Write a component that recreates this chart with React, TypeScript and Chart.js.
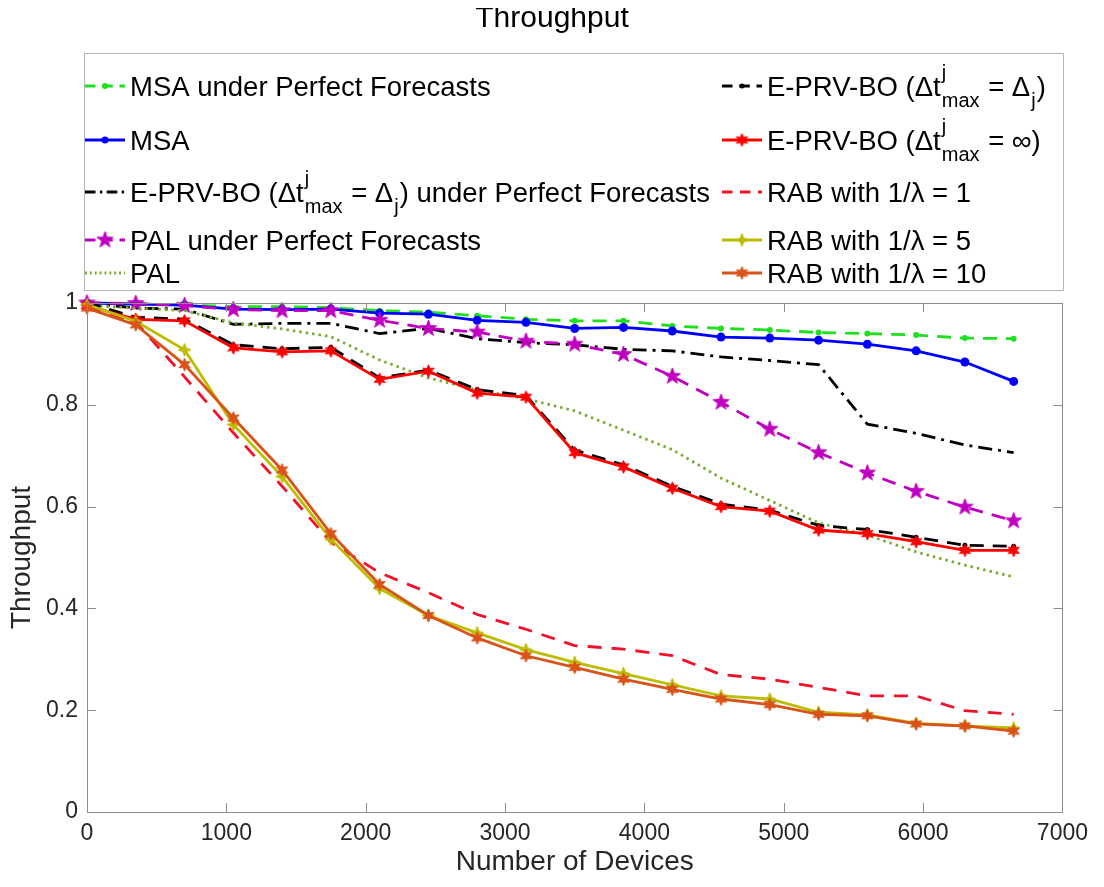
import React, { useEffect, useRef } from 'react';
import { Chart, registerables } from 'chart.js';

Chart.register(...registerables);

// ---------- data ----------
const devices = [0, 350, 700, 1050, 1400, 1750, 2100, 2450, 2800, 3150, 3500, 3850, 4200, 4550, 4900, 5250, 5600, 5950, 6300, 6650];

const msaPerfect = [1.0, 0.997, 0.996, 0.993, 0.993, 0.991, 0.985, 0.982, 0.975, 0.968, 0.965, 0.965, 0.955, 0.95, 0.947, 0.942, 0.94, 0.937, 0.931, 0.93];
const msa = [1.0, 0.998, 0.996, 0.988, 0.987, 0.988, 0.98, 0.978, 0.966, 0.962, 0.95, 0.952, 0.945, 0.933, 0.931, 0.927, 0.919, 0.906, 0.884, 0.846];
const eprvPerfect = [1.0, 0.99, 0.988, 0.958, 0.96, 0.96, 0.94, 0.95, 0.93, 0.922, 0.918, 0.909, 0.906, 0.894, 0.887, 0.879, 0.762, 0.744, 0.721, 0.706];
const palPerfect = [1.0, 0.999, 0.995, 0.987, 0.985, 0.985, 0.966, 0.95, 0.943, 0.925, 0.919, 0.899, 0.856, 0.805, 0.752, 0.706, 0.666, 0.63, 0.599, 0.572];
const pal = [0.995, 0.99, 0.985, 0.961, 0.949, 0.934, 0.888, 0.853, 0.829, 0.812, 0.788, 0.75, 0.712, 0.656, 0.612, 0.568, 0.544, 0.511, 0.485, 0.462];
const eprvDj = [1.0, 0.972, 0.968, 0.918, 0.91, 0.913, 0.853, 0.868, 0.83, 0.818, 0.711, 0.682, 0.64, 0.605, 0.593, 0.563, 0.555, 0.54, 0.524, 0.522];
const eprvInf = [0.995, 0.968, 0.965, 0.912, 0.904, 0.906, 0.85, 0.866, 0.823, 0.815, 0.706, 0.678, 0.636, 0.6, 0.591, 0.554, 0.547, 0.531, 0.514, 0.514];
const rab1 = [0.99, 0.963, 0.855, 0.745, 0.64, 0.53, 0.47, 0.431, 0.388, 0.359, 0.327, 0.32, 0.307, 0.27, 0.261, 0.245, 0.228, 0.228, 0.199, 0.192];
const rab5 = [0.997, 0.964, 0.908, 0.761, 0.659, 0.536, 0.439, 0.386, 0.352, 0.319, 0.294, 0.272, 0.25, 0.228, 0.222, 0.196, 0.191, 0.174, 0.169, 0.165];
const rab10 = [0.99, 0.957, 0.879, 0.774, 0.672, 0.547, 0.447, 0.386, 0.342, 0.307, 0.284, 0.261, 0.241, 0.222, 0.211, 0.192, 0.189, 0.173, 0.169, 0.159];

const xTickLabels = ['0', '1000', '2000', '3000', '4000', '5000', '6000', '7000'];
const yTickLabels = ['0', '0.2', '0.4', '0.6', '0.8', '1'];
const chartTitle = 'Throughput';
const xTitle = 'Number of Devices';
const yTitle = 'Throughput';

type Seg = { t?: string; sup?: string; sub?: string };
const labelMsaPerfect: Seg[] = [{ t: 'MSA under Perfect Forecasts' }];
const labelMsa: Seg[] = [{ t: 'MSA' }];
const labelEprvPerfect: Seg[] = [{ t: 'E-PRV-BO (\u0394t' }, { sup: 'j', sub: 'max' }, { t: ' = \u0394' }, { sub: 'j' }, { t: ') under Perfect Forecasts' }];
const labelPalPerfect: Seg[] = [{ t: 'PAL under Perfect Forecasts' }];
const labelPal: Seg[] = [{ t: 'PAL' }];
const labelEprvDj: Seg[] = [{ t: 'E-PRV-BO (\u0394t' }, { sup: 'j', sub: 'max' }, { t: ' = \u0394' }, { sub: 'j' }, { t: ')' }];
const labelEprvInf: Seg[] = [{ t: 'E-PRV-BO (\u0394t' }, { sup: 'j', sub: 'max' }, { t: ' = \u221E)' }];
const labelRab1: Seg[] = [{ t: 'RAB with 1/\u03BB = 1' }];
const labelRab5: Seg[] = [{ t: 'RAB with 1/\u03BB = 5' }];
const labelRab10: Seg[] = [{ t: 'RAB with 1/\u03BB = 10' }];

// ---------- styles ----------
const FONT = '"Liberation Sans", Arial, Helvetica, sans-serif';
const TEXT = '#262626';

type Marker = { kind: 'none' } | { kind: 'circle'; r: number } | { kind: 'star'; n: number; outer: number; inner: number; rot?: number };

type Series = { label: Seg[]; data: number[]; color: string; dash: number[]; width: number; marker: Marker; col: number; row: number };

const series: Series[] = [
  { label: labelMsaPerfect, data: msaPerfect, color: '#1ee01e', dash: [14, 9], width: 2.8, marker: { kind: 'circle', r: 3 }, col: 0, row: 0 },
  { label: labelMsa, data: msa, color: '#0000ff', dash: [], width: 2.8, marker: { kind: 'circle', r: 4.5 }, col: 0, row: 1 },
  { label: labelEprvPerfect, data: eprvPerfect, color: '#000000', dash: [14, 6, 3, 6], width: 2.8, marker: { kind: 'none' }, col: 0, row: 2 },
  { label: labelPalPerfect, data: palPerfect, color: '#c000c0', dash: [14, 9], width: 2.8, marker: { kind: 'star', n: 5, outer: 8.5, inner: 3.4 }, col: 0, row: 3 },
  { label: labelPal, data: pal, color: '#77ac30', dash: [2.5, 4], width: 2.8, marker: { kind: 'none' }, col: 0, row: 4 },
  { label: labelEprvDj, data: eprvDj, color: '#000000', dash: [14, 9], width: 2.8, marker: { kind: 'circle', r: 2.5 }, col: 1, row: 0 },
  { label: labelEprvInf, data: eprvInf, color: '#ff0000', dash: [], width: 2.8, marker: { kind: 'star', n: 6, outer: 6.5, inner: 3 }, col: 1, row: 1 },
  { label: labelRab1, data: rab1, color: '#f2102a', dash: [14, 10], width: 2.8, marker: { kind: 'none' }, col: 1, row: 2 },
  { label: labelRab5, data: rab5, color: '#bdbd00', dash: [], width: 2.8, marker: { kind: 'star', n: 4, outer: 6.5, inner: 2.5 }, col: 1, row: 3 },
  { label: labelRab10, data: rab10, color: '#d95319', dash: [], width: 2.8, marker: { kind: 'star', n: 6, outer: 6.5, inner: 3 }, col: 1, row: 4 },
];

// legend geometry (canvas px)
const legendBox = { x: 76, y: 45, w: 979, h: 237 };
const legendRowY = [78, 132, 184, 232, 265];
const legendColX = [77, 714];
const sampleLen = 40;
const legendFont = 27.5;
const legendSmall = 20;

function starCanvas(n: number, outer: number, inner: number, color: string, rot = -Math.PI / 2): HTMLCanvasElement {
  const size = Math.ceil(outer * 2 + 4);
  const c = document.createElement('canvas');
  c.width = size;
  c.height = size;
  const g = c.getContext('2d')!;
  g.translate(size / 2, size / 2);
  g.beginPath();
  for (let i = 0; i < 2 * n; i++) {
    const r = i % 2 === 0 ? outer : inner;
    const a = rot + (i * Math.PI) / n;
    g.lineTo(r * Math.cos(a), r * Math.sin(a));
  }
  g.closePath();
  g.fillStyle = color;
  g.fill();
  g.strokeStyle = color;
  g.lineWidth = 1;
  g.stroke();
  return c;
}

function drawRich(ctx: CanvasRenderingContext2D, segs: Seg[], x: number, y: number) {
  let cx = x;
  ctx.textAlign = 'left';
  ctx.textBaseline = 'alphabetic';
  for (const s of segs) {
    if (s.t !== undefined) {
      ctx.font = `${legendFont}px ${FONT}`;
      ctx.fillText(s.t, cx, y);
      cx += ctx.measureText(s.t).width;
    } else {
      ctx.font = `${legendSmall}px ${FONT}`;
      let w = 0;
      if (s.sup) {
        ctx.fillText(s.sup, cx + 1, y - 17);
        w = Math.max(w, ctx.measureText(s.sup).width + 1);
      }
      if (s.sub) {
        ctx.fillText(s.sub, cx + 1, y + 11);
        w = Math.max(w, ctx.measureText(s.sub).width + 1);
      }
      cx += w + 1;
    }
  }
}

export default function App() {
  const ref = useRef<HTMLCanvasElement | null>(null);

  useEffect(() => {
    if (!ref.current) return;
    const imgs = series.map((s) =>
      s.marker.kind === 'star' ? starCanvas(s.marker.n, s.marker.outer, s.marker.inner, s.color, s.marker.rot) : null
    );

    const datasets = series.map((s, i) => {
      const base: any = {
        label: s.label.map((p) => p.t ?? p.sup ?? p.sub ?? '').join(''),
        data: devices.map((x, k) => ({ x, y: s.data[k] })),
        borderColor: s.color,
        backgroundColor: s.color,
        borderWidth: s.width,
        borderDash: s.dash,
        tension: 0,
        fill: false,
        clip: false,
        order: series.length - i,
      };
      if (s.marker.kind === 'none') {
        base.pointRadius = 0;
      } else if (s.marker.kind === 'circle') {
        base.pointStyle = 'circle';
        base.pointRadius = s.marker.r;
        base.pointBackgroundColor = s.color;
        base.pointBorderColor = s.color;
        base.pointBorderWidth = 0;
      } else {
        base.pointStyle = imgs[i];
        base.pointRadius = 6;
      }
      return base;
    });

    const decor = {
      id: 'decor',
      afterDatasetsDraw(chart: any) {
        const ctx: CanvasRenderingContext2D = chart.ctx;
        const { left, right, top, bottom } = chart.chartArea;
        const xs = chart.scales.x;
        const ys = chart.scales.y;
        ctx.save();
        ctx.strokeStyle = '#8c8c8c';
        ctx.lineWidth = 1;
        ctx.strokeRect(Math.round(left) + 0.5, Math.round(top) + 0.5, Math.round(right - left), Math.round(bottom - top));
        ctx.beginPath();
        const tl = 9;
        xs.ticks.forEach((t: any) => {
          const px = Math.round(xs.getPixelForValue(t.value)) + 0.5;
          ctx.moveTo(px, bottom);
          ctx.lineTo(px, bottom - tl);
          ctx.moveTo(px, top);
          ctx.lineTo(px, top + tl);
        });
        ys.ticks.forEach((t: any) => {
          const py = Math.round(ys.getPixelForValue(t.value)) + 0.5;
          ctx.moveTo(left, py);
          ctx.lineTo(left + tl, py);
          ctx.moveTo(right, py);
          ctx.lineTo(right - tl, py);
        });
        ctx.stroke();
        ctx.restore();
      },
      afterDraw(chart: any) {
        const ctx: CanvasRenderingContext2D = chart.ctx;
        ctx.save();
        // title
        ctx.fillStyle = '#000';
        ctx.font = `30px ${FONT}`;
        ctx.textAlign = 'center';
        ctx.textBaseline = 'middle';
        ctx.fillText(chartTitle, chart.width / 2, 11);
        // legend box
        ctx.fillStyle = '#fff';
        ctx.fillRect(legendBox.x, legendBox.y, legendBox.w, legendBox.h);
        ctx.strokeStyle = '#b4b4b4';
        ctx.lineWidth = 1;
        ctx.strokeRect(legendBox.x + 0.5, legendBox.y + 0.5, legendBox.w, legendBox.h);
        series.forEach((s, i) => {
          const x0 = legendColX[s.col];
          const cy = legendRowY[s.row];
          ctx.save();
          ctx.strokeStyle = s.color;
          ctx.lineWidth = s.width;
          ctx.setLineDash(s.dash.length ? s.dash.map((d) => d * 0.75) : []);
          ctx.beginPath();
          ctx.moveTo(x0, cy);
          ctx.lineTo(x0 + sampleLen, cy);
          ctx.stroke();
          ctx.restore();
          const mx = x0 + sampleLen / 2;
          if (s.marker.kind === 'circle') {
            ctx.fillStyle = s.color;
            ctx.beginPath();
            ctx.arc(mx, cy, Math.min(s.marker.r, 3.5), 0, Math.PI * 2);
            ctx.fill();
          } else if (s.marker.kind === 'star') {
            const im = imgs[i]!;
            ctx.drawImage(im, mx - im.width / 2, cy - im.height / 2);
          }
          ctx.fillStyle = '#000';
          drawRich(ctx, s.label, x0 + sampleLen + 5, cy + 10);
        });
        ctx.restore();
      },
    };

    const chart = new Chart(ref.current, {
      type: 'line',
      data: { datasets },
      options: {
        animation: false,
        responsive: true,
        maintainAspectRatio: false,
        devicePixelRatio: 1,
        layout: { padding: { top: 295, right: 33, left: 0, bottom: 0 } },
        plugins: { legend: { display: false }, title: { display: false }, tooltip: { enabled: false } },
        scales: {
          x: {
            type: 'linear',
            min: 0,
            max: 7000,
            grid: { display: false, drawTicks: false },
            border: { display: false },
            ticks: {
              stepSize: 1000,
              autoSkip: false,
              maxRotation: 0,
              padding: 8,
              color: TEXT,
              font: { size: 23, family: FONT },
              callback: (_v: any, idx: number) => xTickLabels[idx],
            },
            title: { display: true, text: xTitle, color: TEXT, font: { size: 28, family: FONT, lineHeight: 1 }, padding: { top: 0, bottom: 3 } },
            afterFit: (sc: any) => {
              sc.height = 67;
            },
          },
          y: {
            type: 'linear',
            min: 0,
            max: 1,
            grid: { display: false, drawTicks: false },
            border: { display: false },
            ticks: {
              stepSize: 0.2,
              padding: 9,
              color: TEXT,
              font: { size: 23, family: FONT },
              callback: (_v: any, idx: number) => yTickLabels[idx],
            },
            title: { display: true, text: yTitle, color: TEXT, font: { size: 28, family: FONT, lineHeight: 1 }, padding: { top: 0, bottom: 0 } },
            afterFit: (sc: any) => {
              sc.width = 79;
            },
          },
        },
      },
      plugins: [decor],
    });
    return () => chart.destroy();
  }, []);

  return (
    <div style={{ width: 1088, height: 871, position: 'relative', background: '#fff' }}>
      <canvas ref={ref} />
    </div>
  );
}
